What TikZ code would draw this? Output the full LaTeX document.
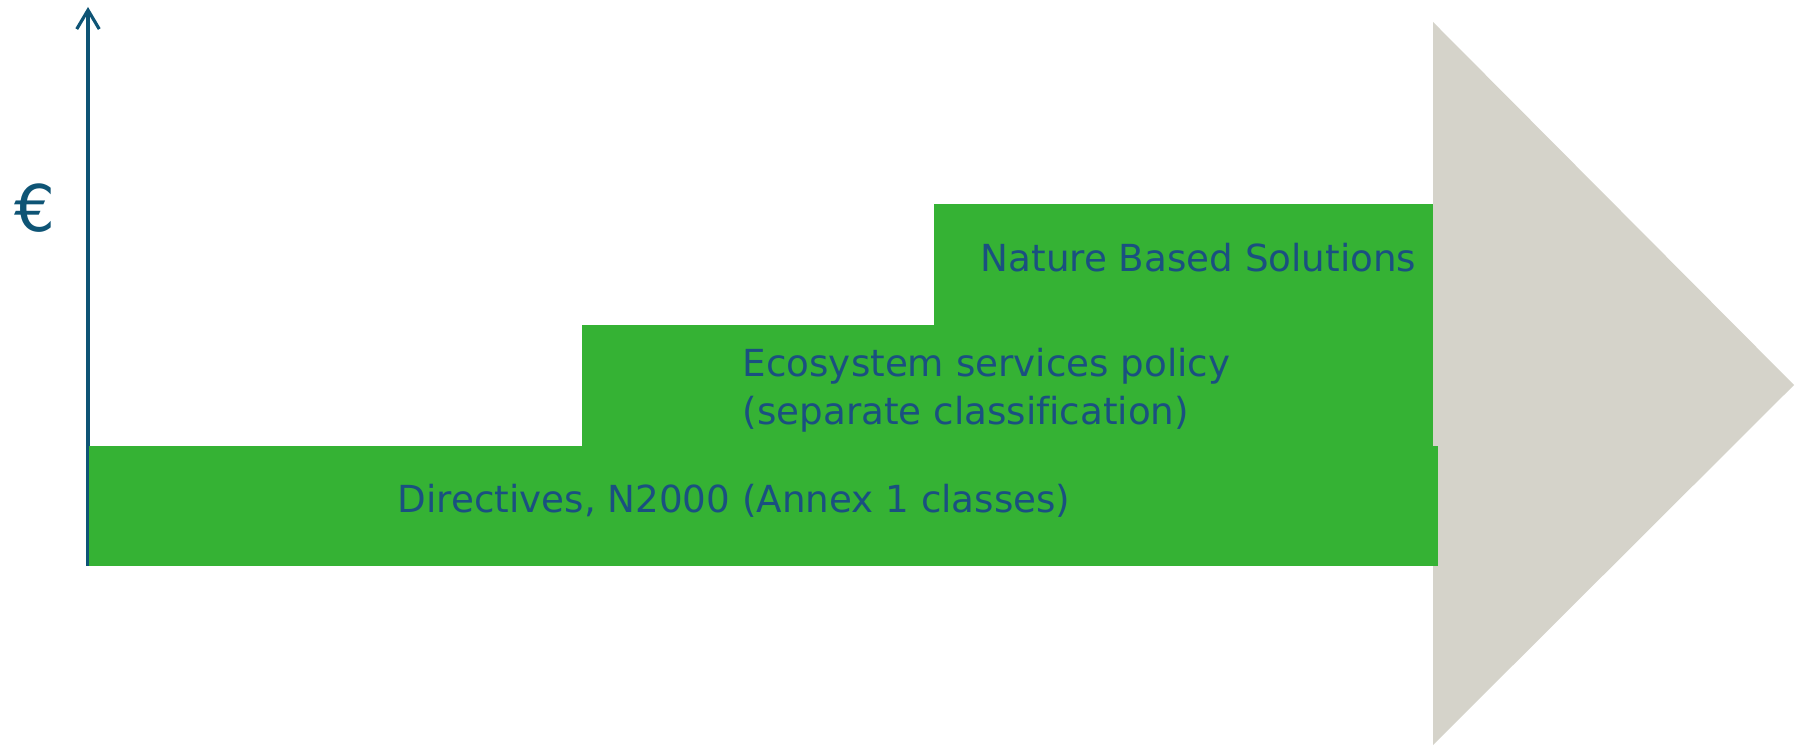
\documentclass[tikz,border=0pt]{standalone}
\usepackage{fontspec}
\setmainfont[Ligatures=NoCommon]{DejaVu Sans}
\usetikzlibrary{arrows.meta}

\definecolor{stepgreen}{RGB}{53,178,52}
\definecolor{labelblue}{RGB}{26,80,128}
\definecolor{axisblue}{RGB}{14,84,117}
\definecolor{arrowgrey}{RGB}{213,211,202}

\tikzset{
  steplabel/.style={anchor=base west, inner sep=0pt, text=labelblue, align=left,
    font=\fontsize{10.6}{13.9}\selectfont},
}

\begin{document}
\begin{tikzpicture}
      \useasboundingbox (0, 0) rectangle (18.05, 7.45);

      \coordinate (origin) at (0.88, 1.79);
      \coordinate (top) at (0.88, 7.38);
      \draw[axisblue, line width=0.9pt, -{Straight Barb[length=5.4pt, width=6.4pt]}] (origin) to (top);
      \node[text=axisblue, font=\fontsize{18.3}{20}\selectfont, inner sep=0pt] (euro) at (0.35, 5.37) {€};

      \fill[arrowgrey] (14.33, 7.23) -- (17.94, 3.60) -- (14.33, 0) -- cycle;

      \fill[stepgreen] (0.89, 1.79) rectangle (14.38, 2.99);
      \fill[stepgreen] (5.82, 2.99) rectangle (14.33, 4.20);
      \fill[stepgreen] (9.34, 4.20) rectangle (14.33, 5.41);

      \node[steplabel] (directives) at (3.97, 2.32) {Directives, N2000 (Annex 1 classes)};
      \node[steplabel] (ecosystem) at (7.42, 3.20) {Ecosystem services policy\\(separate classification)};
      \node[steplabel] (nbs) at (9.80, 4.73) {Nature Based Solutions};
    \end{tikzpicture}
\end{document}
